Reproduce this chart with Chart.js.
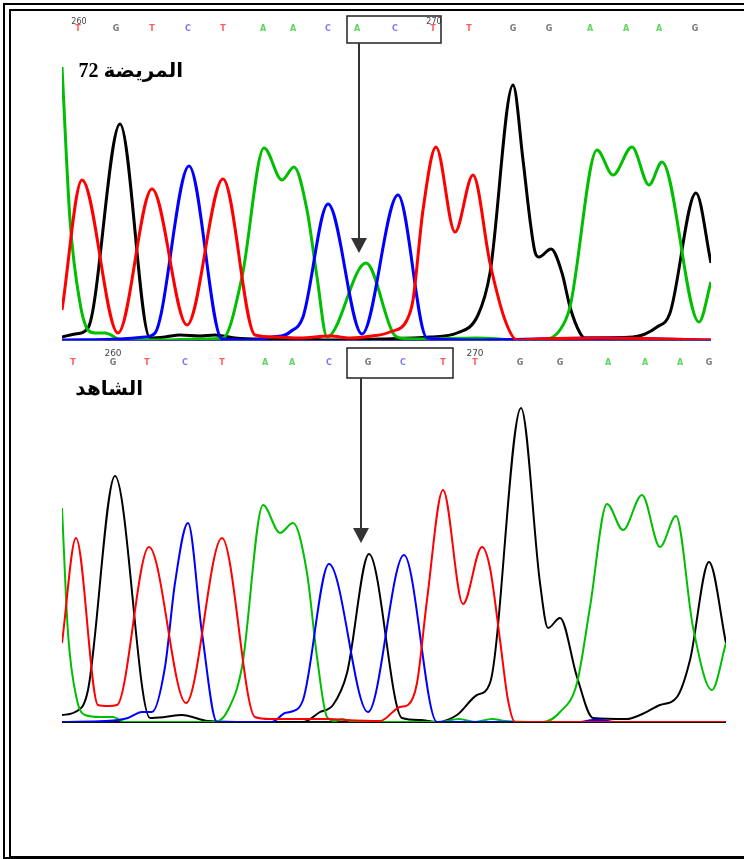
<!DOCTYPE html>
<html>
<head>
<meta charset="utf-8">
<script src="https://cdn.jsdelivr.net/npm/chart.js@4/dist/chart.umd.min.js"></script>
<style>
  html, body { margin: 0; padding: 0; background: #fff; overflow: hidden; }
  #page { position: relative; width: 744px; height: 859px; overflow: hidden; }
  .frame { position: absolute; border: 2px solid #000; box-sizing: border-box; }
  #outer { left: 3px; top: 3px; width: 800px; height: 856px; }
  #inner { left: 9px; top: 9px; width: 800px; height: 849px; }
  canvas { position: absolute; left: 0; }
  #patient { top: 0; }
  #control { top: 343px; }
  .title { position: absolute; left: 0; text-align: right; direction: rtl;
           font: bold 20px "Liberation Serif", "DejaVu Sans", serif; line-height: 20px; }
</style>
</head>
<body>
<div id="page">
<div class="frame" id="outer"></div>
<div class="frame" id="inner"></div>
<canvas id="patient" width="744" height="342"></canvas>
<canvas id="control" width="744" height="390"></canvas>
<div class="title" style="top:60px;width:183px">المريضة 72</div>
<div class="title" style="top:378px;width:143px">الشاهد</div>
</div>
<script>
// ---- patient 72 trace (scan position, signal) ----
const patientT = [[62,30],[82,160],[118,7],[152,151],[187,15],[223,161],[255,5],[275,3],[300,2],[330,4],[350,2],[372,4],[390,8],[407,20],[413,40],[423,130],[436,193],[455,108],[473,165],[490,77],[505,20],[517,0],[540,1],[600,2],[711,0]];
const patientG = [[62,3],[75,6],[88,12],[120,216],[150,2],[165,3],[180,5],[200,4],[215,5],[235,2],[260,1],[300,1],[330,0],[380,1],[430,3],[457,7],[478,25],[490,67],[513,255],[523,180],[530,120],[535,88],[539,83],[551,91],[562,67],[570,33],[580,7],[585,2],[633,3],[657,13],[670,27],[696,147],[711,77]];
const patientA = [[62,273],[70,120],[80,37],[88,10],[95,7],[105,7],[122,0],[160,0],[200,1],[223,2],[242,63],[264,192],[282,160],[294,173],[307,130],[317,63],[327,3],[366,77],[393,7],[400,2],[420,1],[477,2],[520,0],[540,0],[560,10],[570,33],[597,190],[613,165],[632,193],[649,155],[662,178],[699,18],[711,58]];
const patientC = [[62,0],[120,1],[145,3],[155,7],[189,174],[222,1],[250,0],[272,3],[285,5],[290,8],[303,23],[328,136],[362,6],[398,145],[427,2],[470,0],[600,2],[711,0]];

// ---- control trace ----
const controlT = [[62,79],[76,184],[98,17],[108,16],[117,17],[149,175],[186,19],[222,184],[255,5],[270,3],[300,3],[330,3],[345,2],[380,1],[400,15],[408,17],[417,39],[427,122],[443,232],[463,118],[482,175],[490,154],[500,82],[508,22],[515,0],[726,0]];
const controlG = [[62,7],[75,10],[88,32],[115,246],[150,4],[165,5],[182,7],[208,1],[250,0],[303,0],[320,10],[333,17],[347,49],[369,168],[402,4],[420,2],[437,0],[457,7],[477,27],[490,39],[521,314],[540,139],[548,94],[560,104],[577,45],[593,4],[627,3],[640,7],[660,17],[677,25],[690,62],[709,160],[726,79]];
const controlA = [[62,214],[68,89],[77,22],[85,7],[100,5],[113,5],[125,0],[215,0],[228,12],[242,55],[263,217],[280,189],[293,199],[307,149],[317,65],[327,5],[335,1],[342,3],[355,0],[440,0],[459,3],[475,0],[492,3],[505,1],[543,0],[560,10],[577,39],[590,115],[607,218],[623,192],[642,227],[660,175],[676,206],[693,95],[712,32],[726,79]];
const controlC = [[62,0],[105,1],[118,2],[128,4],[142,10],[152,10],[165,55],[175,139],[188,199],[202,89],[217,0],[272,0],[285,9],[290,10],[303,22],[329,158],[368,10],[404,167],[437,0],[580,0],[593,2],[600,2],[615,0],[726,0]];

// base calls and position numbers
const patientCalls = ['T','G','T','C','T','A','A','C','A','C','T','T','G','G','A','A','A','G'];
const patientCallPos = [78,116,152,188,223,263,293,328,357,395,433,469,513,549,590,626,659,695];
const patientTicks = ['260','270'];
const patientTickPos = [79,434];

const controlCalls = ['T','G','T','C','T','A','A','C','G','C','T','T','G','G','A','A','A','G'];
const controlCallPos = [73,113,147,185,222,265,292,329,368,403,443,475,520,560,608,645,680,709];
const controlTicks = ['260','270'];
const controlTickPos = [113,475];

const traceColor = { A: '#00bf00', C: '#0000ff', G: '#000000', T: '#ff0000' };
const callColor = { A: '#5fd35f', C: '#7a7aff', G: '#777777', T: '#ff5a5a' };

const toXY = arr => arr.map(p => ({ x: p[0], y: p[1] }));

// draws baseline, base calls, the box around the variant and the arrow
const chromaPlugin = {
  id: 'chroma',
  beforeDatasetsDraw(chart, args, o) {
    const ctx = chart.ctx, a = chart.chartArea;
    ctx.save();
    ctx.strokeStyle = o.baseColor;
    ctx.lineWidth = o.baseWidth;
    ctx.beginPath();
    ctx.moveTo(a.left, a.bottom);
    ctx.lineTo(a.right, a.bottom);
    ctx.stroke();
    ctx.restore();
  },
  afterDatasetsDraw(chart, args, o) {
    const ctx = chart.ctx, xs = chart.scales.x, ys = chart.scales.y;
    ctx.save();
    ctx.textAlign = 'center';
    ctx.textBaseline = 'middle';
    ctx.font = o.callFont;
    o.calls.forEach((c, i) => {
      ctx.fillStyle = callColor[c];
      ctx.fillText(c, xs.getPixelForValue(o.callPos[i]), o.callY);
    });
    ctx.font = o.tickFont;
    ctx.fillStyle = '#444';
    o.ticks.forEach((t, i) => ctx.fillText(t, xs.getPixelForValue(o.tickPos[i]), o.tickY));

    // box around the three bases
    const bx0 = xs.getPixelForValue(o.box[0]), bx1 = xs.getPixelForValue(o.box[1]);
    ctx.strokeStyle = '#222';
    ctx.lineWidth = 1.5;
    ctx.strokeRect(bx0, o.boxTop, bx1 - bx0, o.boxBottom - o.boxTop);

    // arrow down to the peak
    const ax = xs.getPixelForValue(o.arrowX), tip = ys.getPixelForValue(o.arrowTip);
    ctx.strokeStyle = '#333';
    ctx.fillStyle = '#333';
    ctx.lineWidth = 2;
    ctx.beginPath();
    ctx.moveTo(ax, o.boxBottom);
    ctx.lineTo(ax, tip - 12);
    ctx.stroke();
    ctx.beginPath();
    ctx.moveTo(ax - 8, tip - 15);
    ctx.lineTo(ax + 8, tip - 15);
    ctx.lineTo(ax, tip);
    ctx.closePath();
    ctx.fill();
    ctx.restore();
  }
};

function makeTrace(id, traces, lw, xr, ymax, pad, opts) {
  new Chart(document.getElementById(id), {
    type: 'line',
    data: {
      datasets: ['T', 'C', 'A', 'G'].map(b => ({
        data: toXY(traces[b]),
        borderColor: traceColor[b],
        borderWidth: lw,
        pointRadius: 0,
        fill: false,
        cubicInterpolationMode: 'monotone'
      }))
    },
    options: {
      responsive: false,
      animation: false,
      layout: { padding: pad },
      scales: {
        x: { type: 'linear', min: xr[0], max: xr[1], display: false },
        y: { min: 0, max: ymax, display: false }
      },
      plugins: { legend: { display: false }, tooltip: { enabled: false }, chroma: opts }
    },
    plugins: [chromaPlugin]
  });
}

makeTrace('patient', { T: patientT, G: patientG, A: patientA, C: patientC }, 3, [62, 711], 278,
  { left: 62, right: 33, top: 62, bottom: 2 },
  { calls: patientCalls, callPos: patientCallPos, ticks: patientTicks, tickPos: patientTickPos,
    callY: 29, tickY: 22, callFont: 'bold 8px "DejaVu Sans"', tickFont: '8px "DejaVu Sans"',
    box: [347, 441], boxTop: 16, boxBottom: 43, arrowX: 359, arrowTip: 87,
    baseColor: '#000080', baseWidth: 1.5 });

makeTrace('control', { T: controlT, G: controlG, A: controlA, C: controlC }, 2, [62, 726], 330,
  { left: 62, right: 18, top: 49, bottom: 11 },
  { calls: controlCalls, callPos: controlCallPos, ticks: controlTicks, tickPos: controlTickPos,
    callY: 20, tickY: 11, callFont: 'bold 8px "DejaVu Sans"', tickFont: '9px "DejaVu Sans"',
    box: [347, 453], boxTop: 5, boxBottom: 35, arrowX: 361, arrowTip: 179,
    baseColor: '#111', baseWidth: 2 });
</script>
</body>
</html>
